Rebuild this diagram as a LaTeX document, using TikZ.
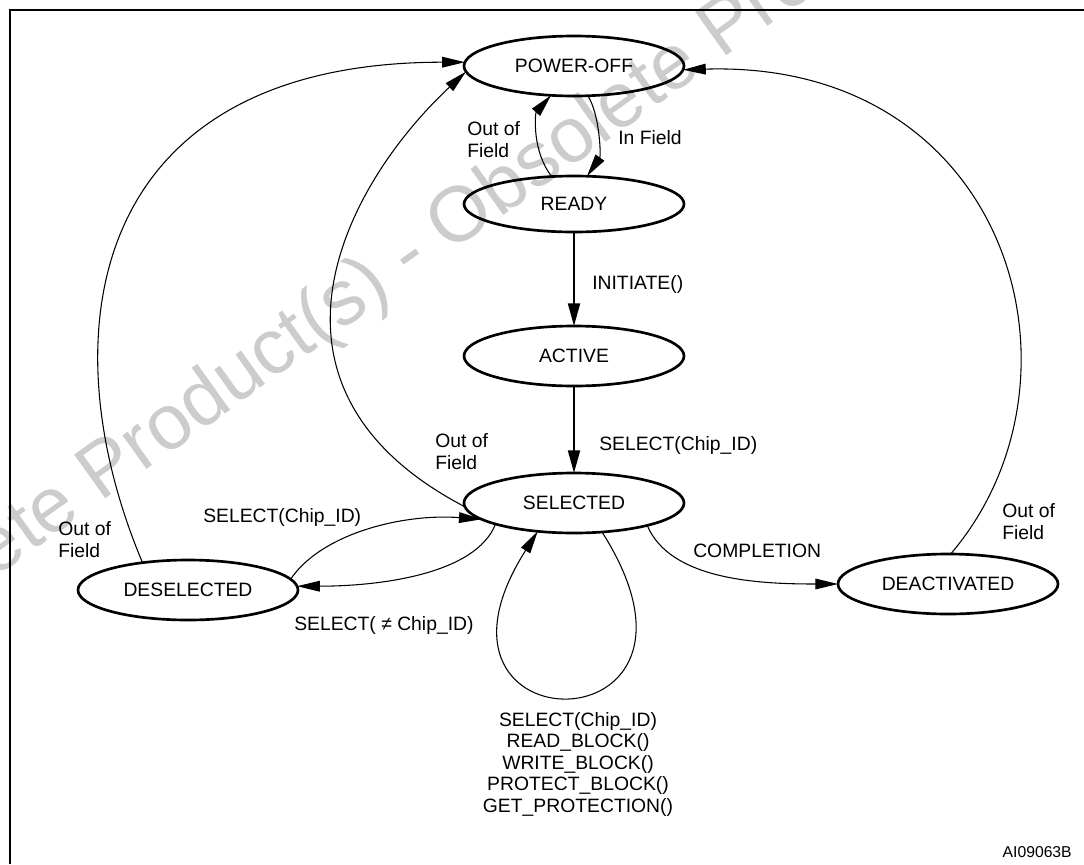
\documentclass[tikz,border=0pt]{standalone}
\usepackage{fontspec}
\setmainfont{Liberation Sans}
\usetikzlibrary{arrows.meta,shapes.geometric}
\begin{document}
\begin{tikzpicture}[x=0.75pt,y=-0.75pt,
  state/.style={ellipse, draw, line width=2pt, minimum width=165pt, minimum height=45pt,
    inner sep=0pt, outer sep=0pt, font=\fontsize{14.5}{16.5}\selectfont},
  conn/.style={line width=0.8pt, -{Triangle[length=17pt,width=8pt]}},
  vconn/.style={line width=1.5pt, -{Triangle[length=17pt,width=9pt]}},
  lbl/.style={inner sep=0pt, font=\fontsize{14.5}{16.5}\selectfont, align=left},
  frame/.style={line width=1.5pt},
  wmark/.style={rotate=35.5, text=black!20, inner sep=0pt, font=\fontsize{58.5}{60}\selectfont}
]
\useasboundingbox (0,0) rectangle (1084,864);

% watermark
\node[wmark] (wm) at (410,257) {Obsolete Product(s) - Obsolete Product(s)};

% frame
\draw[frame] (10,864) -- (10,10) -- (1084,10);

% states
\node[state] (poweroff) at (574,66) {POWER-OFF};
\node[state, minimum height=42pt] (ready) at (574,204) {READY};
\node[state] (active) at (574,356) {ACTIVE};
\node[state] (selected) at (574,503) {SELECTED};
\node[state] (deselected) at (188,590) {DESELECTED};
\node[state] (deactivated) at (948,584) {DEACTIVATED};

% connectors
\draw[conn] (ready.129) .. controls +(-20,-25) and +(-16,18) .. (poweroff.232);
\draw[conn] (poweroff.295) .. controls +(12,19) and +(14,-20) .. (ready.65);
\draw[vconn] (ready.south) -- (active.north);
\draw[vconn] (active.south) -- (selected.north);
\draw[conn] (selected.182) .. controls +(-224,-117) and +(-126,118) .. (poweroff.183);
\draw[conn] (deselected.149) .. controls +(-97,-230) and +(-376,0) .. (poweroff.178);
\draw[conn] (deselected.6) .. controls +(30,-45) and +(-80,-6) .. (selected.190);
\draw[conn] (selected.195) .. controls +(-20,51) and +(80,0) .. (deselected.2);
\draw[conn] (selected.314) .. controls +(140,220) and +(-140,220) .. (selected.218);
\draw[conn] (selected.343) .. controls +(23,55) and +(-78,0) .. (deactivated.west);
\draw[conn] (deactivated.85) .. controls +(149,-174) and +(327,-10) .. (poweroff.358);

% labels
\node[lbl, anchor=north west] (l1) at (467,121) {Out of\\Field};
\node[lbl, anchor=base west] (l2) at (618,144) {In Field};
\node[lbl, anchor=base west] (l3) at (592,289) {INITIATE()};
\node[lbl, anchor=base west] (l4) at (599,450) {SELECT(Chip\_ID)};
\node[lbl, anchor=north west] (l5) at (435,433) {Out of\\Field};
\node[lbl, anchor=north west] (l6) at (58,521) {Out of\\Field};
\node[lbl, anchor=base west] (l7) at (203,522) {SELECT(Chip\_ID)};
\node[lbl, anchor=base west] (l8) at (294,630) {SELECT( ≠ Chip\_ID)};
\node[lbl, anchor=base west] (l9) at (693,557) {COMPLETION};
\node[lbl, anchor=north west] (l10) at (1002,503) {Out of\\Field};
\node[lbl, align=center, anchor=north, font=\fontsize{14.5}{16.1}\selectfont] (l11) at (578,712)
  {SELECT(Chip\_ID)\\READ\_BLOCK()\\WRITE\_BLOCK()\\PROTECT\_BLOCK()\\GET\_PROTECTION()};
\node[inner sep=0pt, anchor=base east, font=\fontsize{11.8}{14}\selectfont] (docid) at (1072,857) {AI09063B};
\end{tikzpicture}
\end{document}
